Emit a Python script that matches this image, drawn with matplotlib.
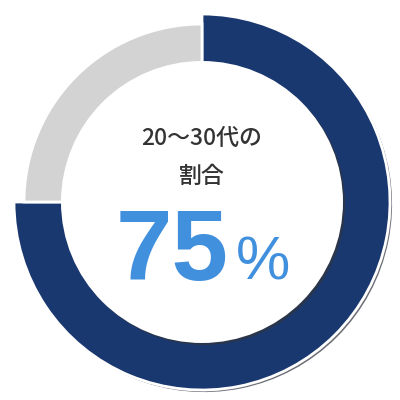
import matplotlib
matplotlib.use("Agg")
from matplotlib import pyplot as plt
from matplotlib import patheffects as pe
from matplotlib.patches import Circle

labels = ['20～30代', 'その他']
shares = [75, 25]
colors = ['#1a3870', '#d3d3d3']
title_lines = ['20～30代の', '割合']
big_value = '75'
big_unit = '%'

fig = plt.figure(figsize=(4, 4), dpi=100)
ax = fig.add_axes([0, 0, 1, 1])

cx, cy = 202, 198
wedges, _ = ax.pie(shares, colors=colors, startangle=90, counterclock=False,
                   center=(cx, cy), radius=188, frame=True,
                   wedgeprops=dict(edgecolor='white', linewidth=2))
ax.set_xlim(0, 400)
ax.set_ylim(0, 400)
ax.set_aspect('equal')
ax.axis('off')

# grey slice is smaller than the blue one
wedges[1].set_radius(178)
wedges[0].set_path_effects([pe.SimplePatchShadow(offset=(1.5, -1.5), alpha=0.6, rho=0.2), pe.Normal()])

hole = Circle((cx, cy), 141, facecolor='white', edgecolor='none', zorder=3)
hole.set_path_effects([pe.SimplePatchShadow(offset=(1.5, -1.5), alpha=0.6, rho=0.2), pe.Normal()])
ax.add_patch(hole)

jp = ['Noto Sans CJK JP', 'DejaVu Sans']
ax.text(202, 400 - 138, title_lines[0], ha='center', va='center', fontsize=16.5,
        color='#333333', family=jp, fontweight='medium', zorder=4)
ax.text(202, 400 - 176, title_lines[1], ha='center', va='center', fontsize=16.5,
        color='#333333', family=jp, fontweight='medium', zorder=4)
ax.text(229, 400 - 280, big_value, ha='right', va='baseline', fontsize=73,
        color='#4190dd', family=['Liberation Sans', 'DejaVu Sans'], fontweight='bold', zorder=4)
ax.text(236, 400 - 280, big_unit, ha='left', va='baseline', fontsize=44,
        color='#4190dd', family=['Liberation Sans', 'DejaVu Sans'], zorder=4)

fig.savefig('out.png', dpi=100, facecolor='white')
